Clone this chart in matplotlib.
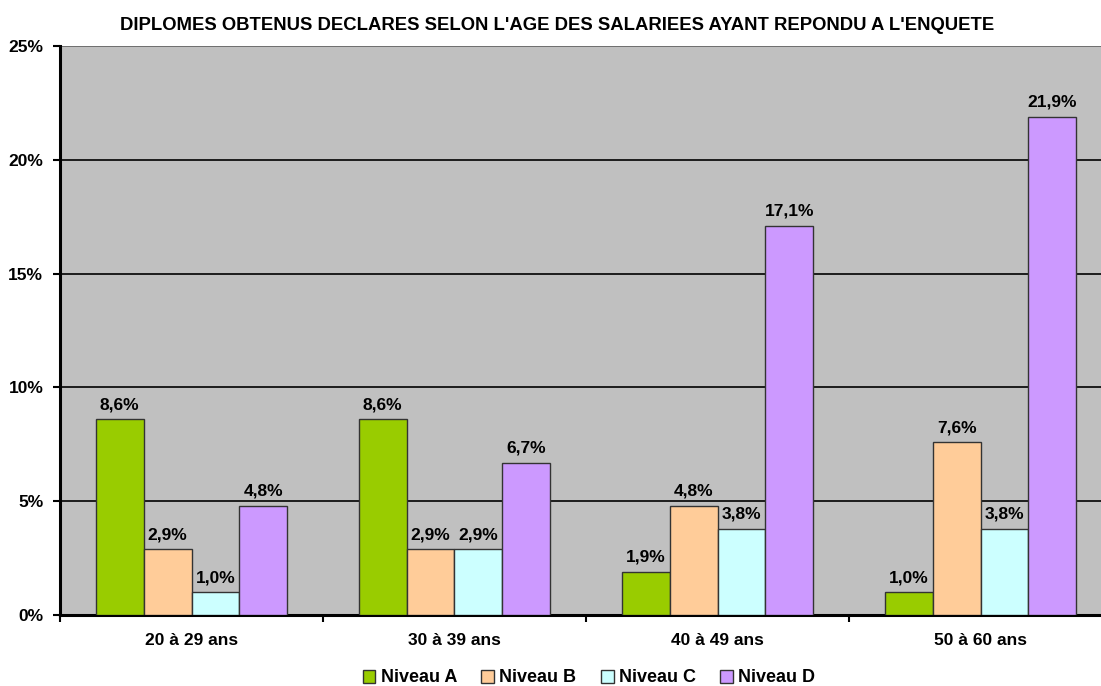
import matplotlib
matplotlib.use("Agg")
import matplotlib.pyplot as plt
import numpy as np
from matplotlib.patches import Patch

plt.rcParams['font.family'] = ['Liberation Sans', 'DejaVu Sans']
plt.rcParams['font.weight'] = 'bold'

categories = ["20 à 29 ans", "30 à 39 ans", "40 à 49 ans", "50 à 60 ans"]
series_names = ["Niveau A", "Niveau B", "Niveau C", "Niveau D"]
niveau_a = [8.6, 8.6, 1.9, 1.0]
niveau_b = [2.9, 2.9, 4.8, 7.6]
niveau_c = [1.0, 2.9, 3.8, 3.8]
niveau_d = [4.8, 6.7, 17.1, 21.9]
series = [niveau_a, niveau_b, niveau_c, niveau_d]
colors = ["#99CC00", "#FFCC99", "#CCFFFF", "#CC99FF"]
yticks = [0, 5, 10, 15, 20, 25]

W, H = 1101, 686
fig = plt.figure(figsize=(W / 100, H / 100), dpi=100)
left, right, top, bottom = 60, 1112, 46, 615
ax = fig.add_axes([left / W, (H - bottom) / H, (right - left) / W, (bottom - top) / H])
ax.set_facecolor("#C0C0C0")

n = len(categories)
bw = 1.0 / (4 + 1.5)
x = np.arange(n)
for i, (vals, col) in enumerate(zip(series, colors)):
    pos = x + (i - 1.5) * bw
    ax.bar(pos, vals, width=bw, color=col, edgecolor="#333333", linewidth=1.0, zorder=3)
    for px, v in zip(pos, vals):
        ax.annotate(f"{v:.1f}%".replace(".", ","), (px, v), xytext=(0, 5),
                    textcoords="offset points", ha="center", va="bottom",
                    fontsize=12.5, fontweight="bold", zorder=4)

ax.set_xlim(-0.5, n - 0.5)
ax.set_ylim(0, 25)
ax.set_yticks(yticks)
ax.set_yticklabels([f"{t}%" for t in yticks], fontsize=12.5, fontweight="bold")
for t in yticks[1:]:
    ax.axhline(t, color="black" if t < 25 else "#606060", linewidth=1.2, zorder=1)

ax.set_xticks(x)
ax.set_xticklabels(categories, fontsize=12.5, fontweight="bold")
ax.tick_params(axis="x", length=0, pad=13)
ax.set_xticks(np.arange(n + 1) - 0.5, minor=True)
ax.tick_params(axis="x", which="minor", length=5, width=1.5, direction="out")
ax.tick_params(axis="y", length=5, width=1.5, direction="out", pad=7)

for s in ["top", "right"]:
    ax.spines[s].set_visible(False)
ax.spines["left"].set_linewidth(2.2)
ax.spines["bottom"].set_linewidth(2.2)

fig.text(557 / W, 1 - 30 / H,
         "DIPLOMES OBTENUS DECLARES SELON L'AGE DES SALARIEES AYANT REPONDU A L'ENQUETE",
         ha="center", va="baseline", fontsize=13.3, fontweight="bold")

handles = [Patch(facecolor=c, edgecolor="#333333", label=l) for c, l in zip(colors, series_names)]
fig.legend(handles=handles, loc="center", bbox_to_anchor=(589 / W, 1 - 678 / H), ncol=4,
           frameon=False, handlelength=0.7, handleheight=0.7,
           handletextpad=0.3, columnspacing=1.35,
           prop={"weight": "bold", "size": 13})

fig.savefig("out.png", dpi=100)
